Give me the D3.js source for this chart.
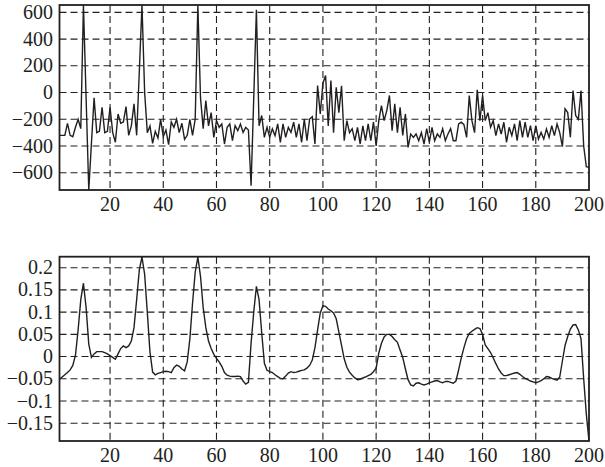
<!DOCTYPE html>
<html>
<head>
<meta charset="utf-8">
<script src="https://cdnjs.cloudflare.com/ajax/libs/d3/7.8.5/d3.min.js"></script>
<style>
  body { margin: 0; background: #fff; }
  text { font-family: "Liberation Serif", "DejaVu Serif", serif; font-size: 20px; fill: #231f20; }
</style>
</head>
<body>
<script>
// upper panel: raw signal, one value per sample 1..200
var topValues = [
  -320, -320, -320, -230, -320, -330, -260, -200, -270, 655,
  -40, -730, -380, -40, -300, -290, -110, -300, -290, -110,
  -300, -372, -160, -230, -220, -105, -320, -250, -85, -320,
  160, 655, 0, -300, -250, -380, -290, -340, -200, -330,
  -280, -390, -220, -260, -200, -300, -230, -350, -320, -200,
  -320, -200, 655, -40, -270, -60, -250, -150, -335, -210,
  -260, -235, -385, -260, -235, -360, -248, -285, -235, -298,
  -260, -280, -697, -40, 620, -248, -172, -335, -260, -335,
  -272, -322, -235, -372, -235, -335, -260, -298, -222, -335,
  -235, -372, -198, -360, -198, -180, -385, 52, -160, 70,
  128, -250, 90, -300, 40, -150, 50, -360, -210, -300,
  -270, -360, -260, -385, -250, -360, -235, -360, -220, -400,
  -210, -98, -210, -135, -22, -285, -85, -300, -110, -320,
  -160, -410, -310, -335, -310, -360, -300, -385, -270, -370,
  -260, -360, -310, -335, -270, -360, -310, -270, -360, -360,
  -235, -222, -240, -335, -22, -210, -300, 20, -210, -22,
  -210, -150, -260, -210, -322, -235, -310, -222, -372, -260,
  -322, -235, -360, -210, -335, -222, -335, -248, -360, -248,
  -348, -298, -348, -272, -335, -248, -322, -235, -300, -405,
  -122, -150, -335, 15, -172, -200, 15, -400, -555, -560
];

// lower panel: smoothed signal
var bottomValues = [
  -0.051, -0.046, -0.041, -0.036, -0.030, -0.020, 0.003, 0.060, 0.128, 0.165,
  0.110, 0.028, -0.002, 0.006, 0.011, 0.011, 0.011, 0.009, 0.006, 0.002,
  -0.002, -0.006, 0.006, 0.018, 0.024, 0.020, 0.024, 0.035, 0.065, 0.128,
  0.195, 0.224, 0.185, 0.100, 0.010, -0.035, -0.041, -0.038, -0.036, -0.034,
  -0.033, -0.034, -0.036, -0.025, -0.019, -0.022, -0.028, -0.032, -0.012, 0.040,
  0.120, 0.190, 0.224, 0.180, 0.110, 0.065, 0.035, 0.018, 0.005, -0.004,
  -0.012, -0.022, -0.036, -0.042, -0.044, -0.045, -0.045, -0.044, -0.045, -0.055,
  -0.062, -0.058, 0.030, 0.100, 0.158, 0.128, 0.053, -0.015, -0.031, -0.034,
  -0.036, -0.041, -0.045, -0.049, -0.050, -0.044, -0.037, -0.034, -0.036, -0.035,
  -0.033, -0.031, -0.030, -0.026, -0.020, -0.008, 0.020, 0.060, 0.098, 0.114,
  0.113, 0.107, 0.103, 0.098, 0.085, 0.055, 0.025, -0.005, -0.024, -0.035,
  -0.042, -0.048, -0.052, -0.051, -0.048, -0.046, -0.043, -0.040, -0.034, -0.026,
  0.008, 0.030, 0.044, 0.050, 0.050, 0.045, 0.038, 0.032, 0.015, -0.002,
  -0.028, -0.052, -0.064, -0.066, -0.060, -0.059, -0.062, -0.064, -0.062, -0.059,
  -0.057, -0.055, -0.054, -0.057, -0.059, -0.056, -0.056, -0.058, -0.060, -0.055,
  -0.030, -0.003, 0.020, 0.040, 0.052, 0.057, 0.061, 0.065, 0.063, 0.050,
  0.026, 0.018, 0.009, -0.003, -0.016, -0.028, -0.037, -0.043, -0.043, -0.041,
  -0.039, -0.037, -0.036, -0.040, -0.045, -0.049, -0.052, -0.055, -0.057, -0.059,
  -0.057, -0.054, -0.050, -0.045, -0.046, -0.049, -0.051, -0.053, -0.046, -0.010,
  0.025, 0.045, 0.062, 0.071, 0.072, 0.060, 0.040, -0.050, -0.130, -0.190
];

var xTicks = [20, 40, 60, 80, 100, 120, 140, 160, 180, 200];
var topYTicks = [-600, -400, -200, 0, 200, 400, 600];
var topYLabels = ["\u2212600", "\u2212400", "\u2212200", "0", "200", "400", "600"];
var bottomYTicks = [-0.15, -0.1, -0.05, 0, 0.05, 0.1, 0.15, 0.2];
var bottomYLabels = ["\u22120.15", "\u22120.1", "\u22120.05", "0", "0.05", "0.1", "0.15", "0.2"];

var width = 605;
var height = 467;
var svg = d3.select("body")
            .append("svg")
            .attr("width", width)
            .attr("height", height);

var left = 59.5, right = 589;

var drawPanel = function(id, values, yDomain, yTicks, yLabels, top, bottom){
    var x = d3.scaleLinear().domain([1, 200]).range([left, right]);
    var y = d3.scaleLinear().domain(yDomain).range([bottom, top]);
    var g = svg.append("g");

    g.append("clipPath").attr("id", id)
     .append("rect")
     .attr("x", left).attr("y", top)
     .attr("width", right - left).attr("height", bottom - top);

    // dashed grid
    g.selectAll(".hg").data(yTicks).enter().append("line")
     .attr("x1", left).attr("x2", right)
     .attr("y1", function(d){ return y(d); })
     .attr("y2", function(d){ return y(d); })
     .attr("stroke", "#231f20").attr("stroke-width", 1.1)
     .attr("stroke-dasharray", "7,4");
    g.selectAll(".vg").data(xTicks.slice(0, -1)).enter().append("line")
     .attr("y1", top).attr("y2", bottom)
     .attr("x1", function(d){ return x(d); })
     .attr("x2", function(d){ return x(d); })
     .attr("stroke", "#231f20").attr("stroke-width", 1.1)
     .attr("stroke-dasharray", "7,4");

    var line = d3.line()
                 .x(function(d, i){ return x(i + 1); })
                 .y(function(d){ return y(d); });
    g.append("path")
     .datum(values)
     .attr("d", line)
     .attr("fill", "none")
     .attr("stroke", "#231f20")
     .attr("stroke-width", 1.4)
     .attr("clip-path", "url(#" + id + ")");

    g.append("rect")
     .attr("x", left).attr("y", top)
     .attr("width", right - left).attr("height", bottom - top)
     .attr("fill", "none").attr("stroke", "#231f20").attr("stroke-width", 1.8);

    g.selectAll(".yl").data(yTicks).enter().append("text")
     .attr("x", 53)
     .attr("y", function(d){ return y(d); })
     .attr("dy", "0.33em")
     .attr("text-anchor", "end")
     .text(function(d, i){ return yLabels[i]; });
    g.selectAll(".xl").data(xTicks).enter().append("text")
     .attr("x", function(d){ return x(d); })
     .attr("y", bottom + 21)
     .attr("text-anchor", "middle")
     .text(function(d){ return d; });
}

drawPanel("clipTop", topValues, [-729, 655], topYTicks, topYLabels, 5, 190);
drawPanel("clipBottom", bottomValues, [-0.19, 0.2247], bottomYTicks, bottomYLabels, 256.7, 441);
</script>
</body>
</html>
